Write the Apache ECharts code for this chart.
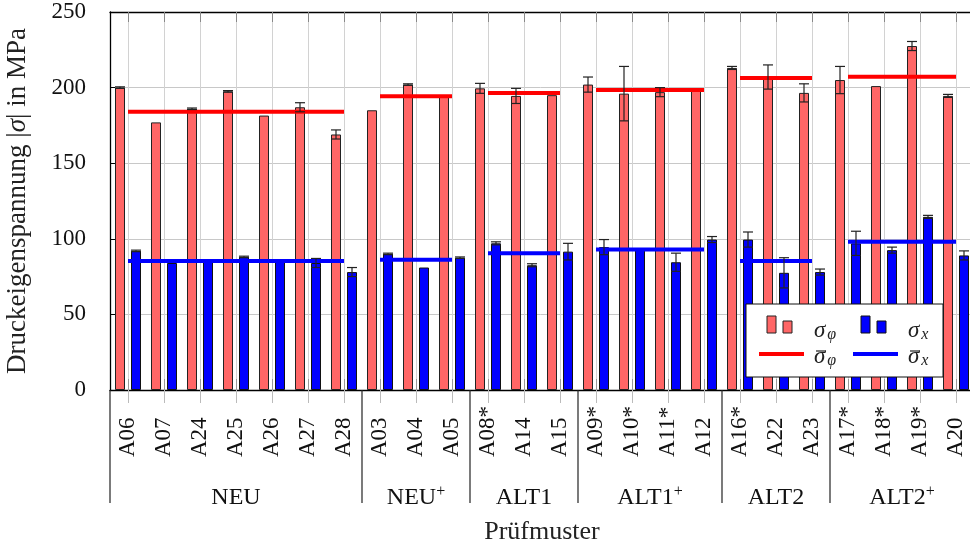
<!DOCTYPE html>
<html><head><meta charset="utf-8">
<script src="https://cdn.jsdelivr.net/npm/echarts@6/dist/echarts.min.js"></script>
<style>html,body{margin:0;padding:0;background:#fff}#c{width:970px;height:549px}</style>
</head><body><div id="c"></div>
<script>
const categories = ['A06','A07','A24','A25','A26','A27','A28','A03','A04','A05','A08*','A14','A15','A09*','A10*','A11*','A12','A16*','A22','A23','A17*','A18*','A19*','A20'];
const sigmaPhi    = [200, 177, 186, 197.5, 181.5, 187, 169, 185, 202, 195, 199.5, 194.5, 195, 202, 196, 197, 198.5, 213, 207, 196.5, 205, 201, 227.5, 194.5];
const sigmaPhiErr = [0.5, 0, 0.5, 0.5, 0, 3, 3, 0, 0.5, 0, 3.3, 5, 0, 5, 18, 3, 0, 1, 8, 6, 9, 0, 3, 1];
const sigmaX      = [92, 84, 85, 88, 86.5, 84, 78, 90, 81, 87.5, 97, 82.5, 91.5, 94.5, 93, 84.5, 99.5, 99.5, 77.5, 78, 97, 92.5, 114.5, 89];
const sigmaXErr   = [0.5, 0, 0, 0.5, 0, 3, 3, 0.5, 0, 0.5, 1, 1, 5.5, 5, 0, 6, 2, 5, 10, 2, 8, 2, 1, 3];
const groupNames = ['NEU', 'NEU', 'ALT1', 'ALT1', 'ALT2', 'ALT2'];
const groupPlus  = [false, true, false, true, false, true];
const groupSizes = [7, 3, 3, 4, 3, 4];
const meanPhi = [184, 194.2, 196.4, 198.4, 206.3, 207.2];
const meanX   = [85.3, 86.2, 90.4, 93.0, 85.3, 98.1];

const FONT = 'Liberation Serif';
const RED_FILL = '#ff6666', BLUE_FILL = '#0000ff';

const groupStarts = [];
{ let s = 0; for (const n of groupSizes) { groupStarts.push(s); s += n; } }

function meanSeries(means, color) {
  return means.map((m, g) => {
    const data = categories.map((c, i) => (i >= groupStarts[g] && i < groupStarts[g] + groupSizes[g]) ? m : null);
    return { type: 'line', data, symbol: 'none', showSymbol: false, z: 4, silent: true,
      lineStyle: { color, width: 4 }, connectNulls: false };
  });
}
function errSeries(vals, errs, dir) {
  return {
    type: 'custom', z: 6, silent: true,
    data: vals.map((v, i) => [i, v, errs[i]]),
    renderItem(params, api) {
      const e = api.value(2);
      if (!e) return null;
      const i = api.value(0), v = api.value(1);
      const band = api.size([1, 0])[0];
      const off = dir * band * 8 / 36;
      const cap = band * 5 / 36;
      const t = api.coord([i, v + e]), b = api.coord([i, v - e]);
      const x = t[0] + off;
      const st = { stroke: '#222', lineWidth: 1.2 };
      return { type: 'group', children: [
        { type: 'line', shape: { x1: x, y1: t[1], x2: x, y2: b[1] }, style: st },
        { type: 'line', shape: { x1: x - cap, y1: t[1], x2: x + cap, y2: t[1] }, style: st },
        { type: 'line', shape: { x1: x - cap, y1: b[1], x2: x + cap, y2: b[1] }, style: st }
      ]};
    }
  };
}

const chart = echarts.init(document.getElementById('c'), null, { renderer: 'canvas' });
const option = {
  animation: false,
  backgroundColor: '#fff',
  textStyle: { fontFamily: FONT },
  grid: { left: 110, top: 12, width: 864, height: 378, containLabel: false, outerBoundsMode: 'none' },
  xAxis: [
    { type: 'category', data: categories, position: 'bottom', boundaryGap: true,
      name: 'Prüfmuster', nameLocation: 'middle', nameGap: 129,
      nameTextStyle: { fontFamily: FONT, fontSize: 26, color: '#222' },
      axisLine: { show: true, lineStyle: { color: '#000', width: 1.3 } },
      axisTick: { show: true, alignWithLabel: true, length: 13, lineStyle: { color: '#bbb' } },
      axisLabel: { interval: 0, rotate: 90, align: 'left', verticalAlign: 'middle', margin: 67,
        fontFamily: FONT, fontSize: 23, color: '#111' },
      splitLine: { show: true, alignWithLabel: true, interval: 0, lineStyle: { color: '#d2d2d2', width: 1 } } },
    { type: 'category', data: categories, position: 'top', boundaryGap: true,
      axisLine: { show: true, lineStyle: { color: '#000', width: 1.3 } },
      axisTick: { show: true, inside: true, alignWithLabel: true, length: 10, lineStyle: { color: '#888' } },
      axisLabel: { show: false }, splitLine: { show: false } },
    { type: 'category', data: categories, position: 'bottom', boundaryGap: true,
      axisLine: { show: false },
      axisTick: { show: true, inside: true, alignWithLabel: true, length: 11, lineStyle: { color: '#999' } },
      axisLabel: { show: false }, splitLine: { show: false } }
  ],
  yAxis: {
    type: 'value', min: 0, max: 250, interval: 50,
    name: 'Druckeigenspannung |{i|σ}| in MPa', nameLocation: 'middle', nameGap: 79,
    nameTextStyle: { fontFamily: FONT, fontSize: 27, color: '#222',
      rich: { i: { fontFamily: FONT, fontSize: 27, fontStyle: 'italic', color: '#222' } } },
    axisLine: { show: true, lineStyle: { color: '#000', width: 1.3 } },
    axisTick: { show: true, inside: true, length: 5, lineStyle: { color: '#000' } },
    axisLabel: { margin: 24, fontFamily: FONT, fontSize: 23, color: '#111' },
    splitLine: { show: true, lineStyle: { color: '#c8c8c8', width: 1 } }
  },
  series: [
    { type: 'bar', name: 'σφ', data: sigmaPhi, barWidth: 10, barGap: '60%', z: 2,
      itemStyle: { color: RED_FILL, borderColor: '#222', borderWidth: 1 } },
    { type: 'bar', name: 'σx', data: sigmaX, barWidth: 10, barGap: '60%', z: 2,
      itemStyle: { color: BLUE_FILL, borderColor: '#111', borderWidth: 1 } },
    ...meanSeries(meanPhi, '#ff0000'),
    ...meanSeries(meanX, '#0000ff'),
    errSeries(sigmaPhi, sigmaPhiErr, -1),
    errSeries(sigmaX, sigmaXErr, 1)
  ]
};
chart.setOption(option);

// Group separators and group labels, positioned from the category axis
const px = i => chart.convertToPixel({ xAxisIndex: 0 }, i);
const y0 = chart.convertToPixel({ yAxisIndex: 0 }, 0);
const bw = px(1) - px(0);
const graphics = [];
groupStarts.forEach((s, g) => {
  const e = s + groupSizes[g] - 1;
  const xl = px(s) - bw / 2;
  graphics.push({ type: 'line', shape: { x1: xl, y1: y0, x2: xl, y2: y0 + 113 }, style: { stroke: '#222', lineWidth: 1.2 }, z: 10 });
  const cx = (px(s) + px(e)) / 2;
  graphics.push({ type: 'text', x: cx, y: y0 + 108, z: 10,
    style: { text: groupPlus[g] ? `{n|${groupNames[g]}}{p|+}` : `{n|${groupNames[g]}}`,
      align: 'center', verticalAlign: 'middle', fill: '#111',
      rich: { n: { fontFamily: FONT, fontSize: 24, lineHeight: 28, fill: '#111' },
              p: { fontFamily: FONT, fontSize: 16, lineHeight: 28, verticalAlign: 'top', fill: '#111' } } } });
});

// Legend box (every element carries its own z so it sits above the series)
const LX = 746, LY = 304, LZ = 50;
const subRich = {
  s: { fontFamily: FONT, fontSize: 23, fontStyle: 'italic', fill: '#222' },
  b: { fontFamily: FONT, fontSize: 16, fontStyle: 'italic', verticalAlign: 'bottom', fill: '#222', padding: [0, 0, 0, 2] }
};
const macron = { stroke: '#222', lineWidth: 1.2 };
const legendEls = [
  { type: 'rect', z: LZ, shape: { x: 0, y: 0, width: 197, height: 73 }, style: { fill: '#fff', stroke: '#111', lineWidth: 1 } },
  { type: 'rect', z: LZ + 1, shape: { x: 21, y: 12, width: 9, height: 17 }, style: { fill: RED_FILL, stroke: '#222', lineWidth: 1 } },
  { type: 'rect', z: LZ + 1, shape: { x: 37, y: 17, width: 9, height: 12 }, style: { fill: RED_FILL, stroke: '#222', lineWidth: 1 } },
  { type: 'rect', z: LZ + 1, shape: { x: 115, y: 12, width: 9, height: 17 }, style: { fill: BLUE_FILL, stroke: '#111', lineWidth: 1 } },
  { type: 'rect', z: LZ + 1, shape: { x: 131, y: 17, width: 9, height: 12 }, style: { fill: BLUE_FILL, stroke: '#111', lineWidth: 1 } },
  { type: 'line', z: LZ + 1, shape: { x1: 13, y1: 50, x2: 58, y2: 50 }, style: { stroke: '#ff0000', lineWidth: 4 } },
  { type: 'line', z: LZ + 1, shape: { x1: 107, y1: 50, x2: 152, y2: 50 }, style: { stroke: '#0000ff', lineWidth: 4 } },
  { type: 'text', z: LZ + 1, x: 68, y: 27, style: { text: '{s|σ}{b|φ}', verticalAlign: 'middle', rich: subRich } },
  { type: 'text', z: LZ + 1, x: 162, y: 27, style: { text: '{s|σ}{b|x}', verticalAlign: 'middle', rich: subRich } },
  { type: 'text', z: LZ + 1, x: 68, y: 53, style: { text: '{s|σ}{b|φ}', verticalAlign: 'middle', rich: subRich } },
  { type: 'text', z: LZ + 1, x: 162, y: 53, style: { text: '{s|σ}{b|x}', verticalAlign: 'middle', rich: subRich } },
  { type: 'line', z: LZ + 1, shape: { x1: 70, y1: 47, x2: 80, y2: 47 }, style: macron },
  { type: 'line', z: LZ + 1, shape: { x1: 164, y1: 47, x2: 174, y2: 47 }, style: macron }
];
legendEls.forEach(el => { el.x = (el.x || 0) + LX; el.y = (el.y || 0) + LY; graphics.push(el); });
chart.setOption({ graphic: { elements: graphics } });
</script>
</body></html>
